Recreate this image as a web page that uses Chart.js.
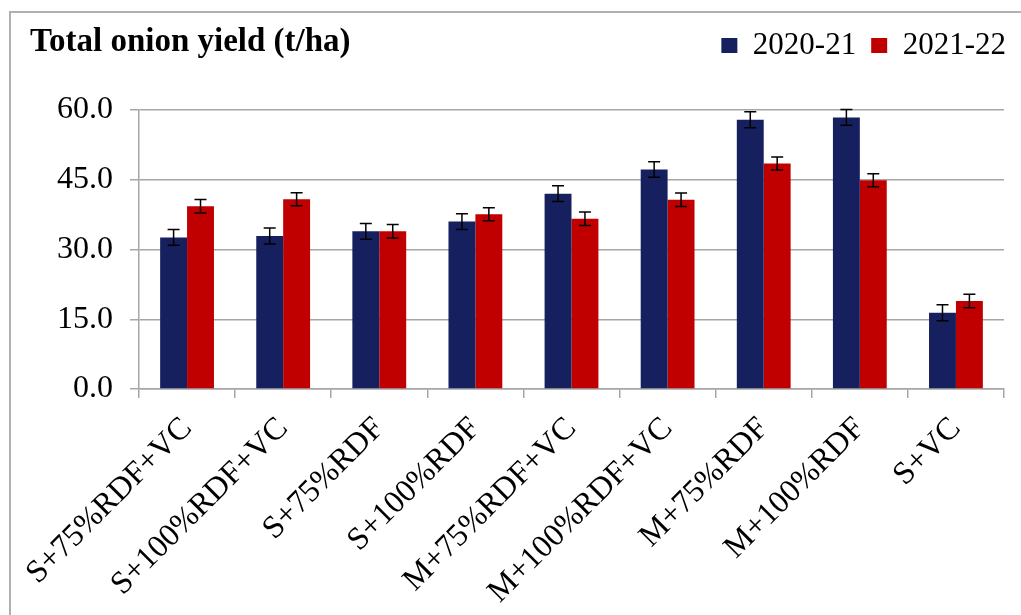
<!DOCTYPE html>
<html>
<head>
<meta charset="utf-8">
<script src="https://cdn.jsdelivr.net/npm/chart.js@4/dist/chart.umd.min.js"></script>
<style>
  body { margin: 0; background: #fff; }
  #caja { position: relative; width: 1021px; height: 615px; overflow: hidden; }
  #marco { position: absolute; left: 9px; top: 11px; width: 1100px; height: 700px;
           border-left: 2px solid #b0b0b0; border-top: 2px solid #b0b0b0; }
  #titulo { position: absolute; left: 30px; top: 22px; font: bold 33px 'Liberation Serif', serif; color: #000; }
  canvas { position: absolute; left: 0; top: 0; }
</style>
</head>
<body>
<div id="caja">
  <div id="marco"></div>
  <canvas id="grafico-rendimiento" width="1021" height="615"></canvas>
  <div id="titulo">Total onion yield (t/ha)</div>
</div>
<script>
// Tratamientos y rendimientos por campaña
const tratamientos = ['S+75%RDF+VC', 'S+100%RDF+VC', 'S+75%RDF', 'S+100%RDF',
  'M+75%RDF+VC', 'M+100%RDF+VC', 'M+75%RDF', 'M+100%RDF', 'S+VC'];
const rend2020 = [32.6, 32.9, 33.9, 36.0, 42.0, 47.2, 57.9, 58.4, 16.4];
const rend2021 = [39.3, 40.8, 33.9, 37.6, 36.6, 40.7, 48.5, 44.9, 18.9];
const error2020 = [1.7, 1.7, 1.7, 1.7, 1.7, 1.65, 1.7, 1.7, 1.7];
const error2021 = [1.45, 1.4, 1.45, 1.4, 1.45, 1.45, 1.4, 1.4, 1.45];
const marcasY = [0, 15, 30, 45, 60];

const fuente = "'Liberation Serif', 'Times New Roman', serif";
const gris = '#a6a6a6';

// Barras de error dibujadas sobre cada barra
const barrasError = {
  id: 'barrasError',
  afterDatasetsDraw(chart) {
    const ctx = chart.ctx;
    const y = chart.scales.y;
    ctx.save();
    ctx.strokeStyle = '#000';
    ctx.lineWidth = 1.5;
    chart.data.datasets.forEach((ds, i) => {
      const meta = chart.getDatasetMeta(i);
      meta.data.forEach((barra, j) => {
        const v = ds.data[j];
        const e = ds.errores[j];
        const arriba = y.getPixelForValue(v + e);
        const abajo = y.getPixelForValue(v - e);
        const x = barra.x;
        ctx.beginPath();
        ctx.moveTo(x, arriba); ctx.lineTo(x, abajo);
        ctx.moveTo(x - 6, arriba); ctx.lineTo(x + 6, arriba);
        ctx.moveTo(x - 6, abajo); ctx.lineTo(x + 6, abajo);
        ctx.stroke();
      });
    });
    ctx.restore();
  }
};

// Espacio fijo para la leyenda y leyenda pegada al borde derecho
const ajusteLeyenda = {
  id: 'ajusteLeyenda',
  beforeInit(chart) {
    const leyenda = chart.legend;
    const fitOriginal = leyenda.fit;
    leyenda.fit = function fit() {
      fitOriginal.bind(leyenda)();
      this.height = 95;
    };
    const drawOriginal = leyenda.draw;
    leyenda.draw = function draw() {
      this.right += 17;
      drawOriginal.apply(leyenda, arguments);
      this.right -= 17;
    };
  }
};

const ctx = document.getElementById('grafico-rendimiento').getContext('2d');
new Chart(ctx, {
  type: 'bar',
  data: {
    labels: tratamientos,
    datasets: [{
      label: '2020-21',
      data: rend2020,
      errores: error2020,
      backgroundColor: '#17205f',
      categoryPercentage: 0.56,
      barPercentage: 1.0
    }, {
      label: '2021-22',
      data: rend2021,
      errores: error2021,
      backgroundColor: '#c00000',
      categoryPercentage: 0.56,
      barPercentage: 1.0
    }]
  },
  options: {
    responsive: false,
    animation: false,
    layout: { padding: { top: 15, right: 17, left: 0, bottom: 0 } },
    plugins: {
      tooltip: { enabled: false },
      legend: {
        position: 'top',
        align: 'end',
        labels: {
          color: '#000',
          font: { family: fuente, size: 31 },
          boxWidth: 16,
          boxHeight: 15,
          padding: 15
        }
      }
    },
    scales: {
      x: {
        grid: { drawOnChartArea: false, color: gris, lineWidth: 1.5, tickLength: 9 },
        border: { color: gris, width: 1.5 },
        ticks: {
          color: '#000',
          font: { family: fuente, size: 32 },
          autoSkip: false,
          maxRotation: 45,
          minRotation: 45,
          padding: 12
        },
        afterFit: scale => { scale.height = 226; }
      },
      y: {
        min: 0,
        max: 60,
        afterBuildTicks: scale => { scale.ticks = marcasY.map(v => ({ value: v })); },
        grid: { color: gris, lineWidth: 1.5, tickLength: 9 },
        border: { color: gris, width: 1.5 },
        ticks: {
          color: '#000',
          font: { family: fuente, size: 32 },
          padding: 17,
          callback: value => value.toFixed(1)
        },
        afterFit: scale => { scale.width = 139; }
      }
    }
  },
  plugins: [barrasError, ajusteLeyenda]
});
</script>
</body>
</html>
